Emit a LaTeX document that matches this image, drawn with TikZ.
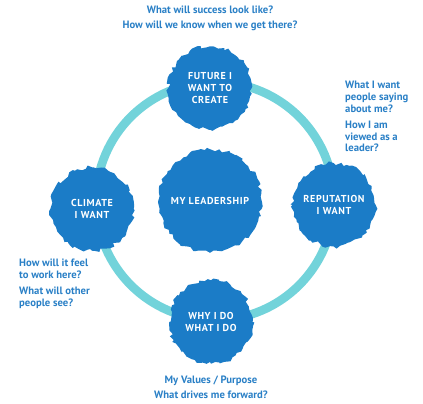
\documentclass[tikz,border=0pt]{standalone}
\usepackage{fontspec}
\setmainfont{PT Sans}
\newfontfamily\blobfont{PT Sans}[LetterSpace=6]
\usetikzlibrary{positioning,decorations.pathmorphing}
\definecolor{inkblue}{HTML}{1B7CC7}
\definecolor{ringcyan}{HTML}{72D3DA}
\definecolor{askblue}{HTML}{2A80C6}
\tikzset{
  inkblob/.style={circle,fill=inkblue,inner sep=0pt,minimum size=#1,
    decorate,decoration={random steps,segment length=3pt,amplitude=1.7pt},
    text=white,align=center,font=\blobfont\bfseries\fontsize{8.6}{10.6}\selectfont},
  inkblob/.default=2.5cm,
  question/.style={text=askblue,inner sep=0pt,
    font=\bfseries\fontsize{9.1}{10}\selectfont},
  ringline/.style={draw=ringcyan,line width=7.4pt}
}

\begin{document}
\begin{tikzpicture}[x=0.03cm,y=-0.03cm]
\useasboundingbox (0,0) rectangle (423,404);
\coordinate (mid) at (215,201);
\draw[ringline] (mid) circle[radius=119];
\node[inkblob] (future) at (210,88) {FUTURE I\\WANT TO\\CREATE};
\node[inkblob] (reputation) at (334,205) {REPUTATION\\I WANT};
\node[inkblob] (climate) at (92,209) {CLIMATE\\I WANT};
\node[inkblob] (why) at (211,322) {WHY I DO\\WHAT I DO};
\node[inkblob=3.1cm] (core) at (210,201) {MY LEADERSHIP};
% questions round the ring
\node[question,align=center,above=4.4mm of future] (qfuture)
  {What will success look like?\\[3.4pt]How will we know when we get there?};
\node[question,align=left,anchor=north west] (qrep) at (345,81)
  {What I want\\people saying\\about me?\\[3.8pt]How I am\\viewed as a\\leader?};
\node[question,align=left,anchor=north west] (qclim) at (19,259)
  {How will it feel\\to work here?\\[3.8pt]What will other\\people see?};
\node[question,align=center,below=3.4mm of why] (qwhy)
  {My Values / Purpose\\[3.4pt]What drives me forward?};
\end{tikzpicture}
\end{document}
